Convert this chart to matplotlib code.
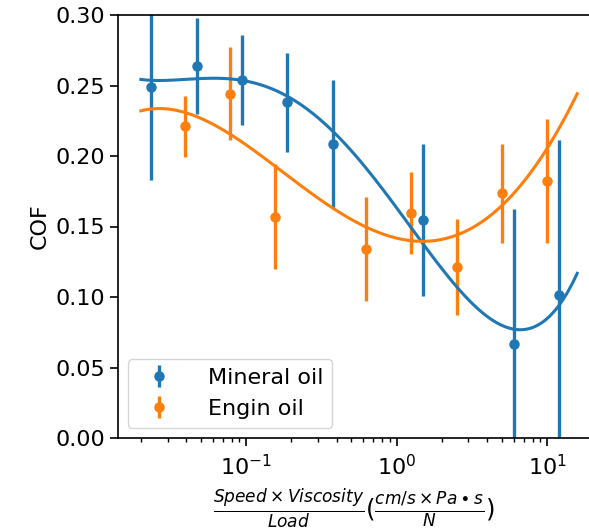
import numpy as np
import matplotlib
matplotlib.use("Agg")
import matplotlib.pyplot as plt

# speed*viscosity/load values and friction readings
mineral_x = [0.0234, 0.0469, 0.094, 0.1875, 0.375, 1.5, 6.0, 12.0]
mineral_cof = [0.249, 0.264, 0.254, 0.238, 0.2085, 0.1546, 0.0665, 0.1015]
mineral_err = [0.066, 0.034, 0.032, 0.035, 0.0455, 0.054, 0.096, 0.110]

engine_x = [0.039, 0.078, 0.156, 0.625, 1.25, 2.5, 5.0, 10.0]
engine_cof = [0.221, 0.244, 0.157, 0.134, 0.1596, 0.1215, 0.1735, 0.182]
engine_err = [0.0215, 0.033, 0.037, 0.037, 0.029, 0.034, 0.035, 0.044]

fit_logx = [-1.7, -1.5, -1.25, -1.0, -0.75, -0.5, -0.25, 0.0, 0.25, 0.5, 0.75, 1.0, 1.2]
mineral_fit = [0.2539, 0.2546, 0.2548, 0.2532, 0.2433, 0.2243, 0.1972, 0.1665,
               0.1262, 0.0931, 0.0778, 0.0872, 0.1156]
engine_fit = [0.2326, 0.2326, 0.2232, 0.2078, 0.1889, 0.170, 0.1511, 0.1409,
              0.1405, 0.1475, 0.1711, 0.2066, 0.2433]


def smooth_trend(logx, y, deg=4):
    # smooth the sampled trend so it draws as a continuous curve
    xs = np.linspace(logx[0], logx[-1], 200)
    return 10 ** xs, np.polyval(np.polyfit(logx, y, deg), xs)


fig = plt.figure(figsize=(5.89, 5.31), dpi=100)
ax = fig.add_axes([118 / 589, 1 - 438 / 531, 472 / 589, 423 / 531])

blue, orange = "#1f77b4", "#ff7f0e"

ax.errorbar(mineral_x, mineral_cof, yerr=mineral_err, fmt="o", color=blue,
            ms=6.5, elinewidth=2.4, label="Mineral oil")
ax.errorbar(engine_x, engine_cof, yerr=engine_err, fmt="o", color=orange,
            ms=6.5, elinewidth=2.4, label="Engin oil")
ax.plot(*smooth_trend(fit_logx, mineral_fit), color=blue, lw=2.2)
ax.plot(*smooth_trend(fit_logx, engine_fit), color=orange, lw=2.2)

ax.set_xscale("log")
ax.set_xlim(10 ** -1.852, 10 ** 1.285)
ax.set_ylim(0, 0.30)
ax.set_yticks(np.arange(0, 0.31, 0.05))
ax.tick_params(labelsize=16, length=5.6, width=1.2)
ax.tick_params(axis="x", pad=6)
ax.tick_params(which="minor", length=3.2, width=1.0)
for s in ax.spines.values():
    s.set_linewidth(1.2)
ax.set_ylabel("COF", fontsize=16)
ax.set_xlabel(r"$\frac{Speed \times Viscosity}{Load}$"
              r"$(\frac{cm/s \times Pa \bullet s}{N})$", fontsize=17.5, labelpad=6)
ax.legend(loc="lower left", fontsize=16, handletextpad=1.2, borderaxespad=0.45)

fig.savefig("out.png", dpi=100)
